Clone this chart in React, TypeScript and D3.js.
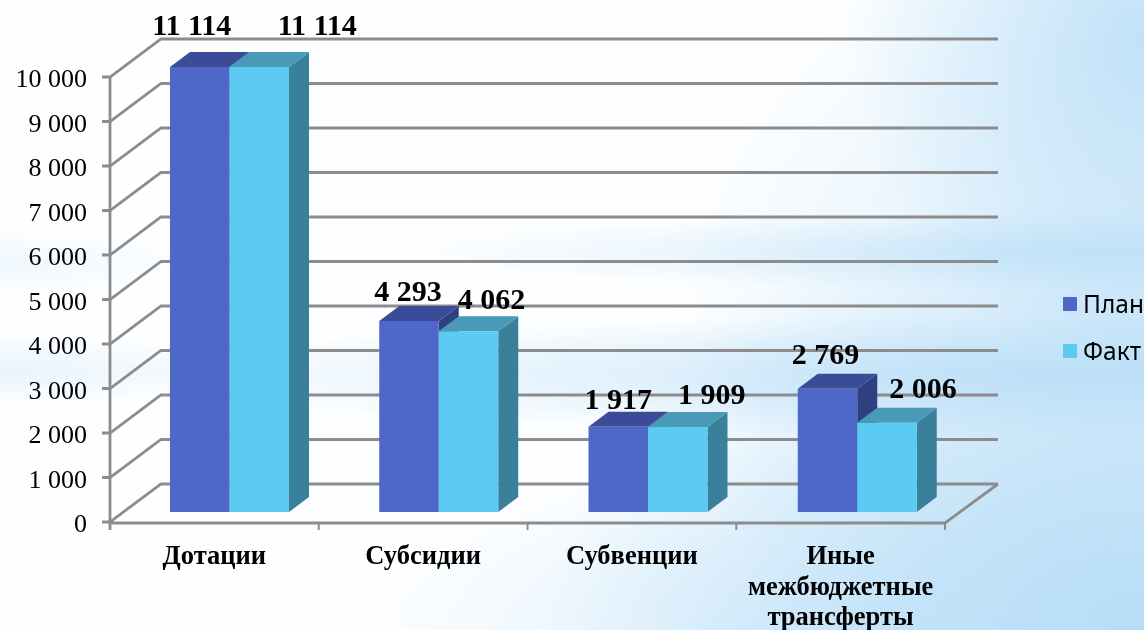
import React from "react";
import * as d3 from "d3";

const categories = ["Дотации", "Субсидии", "Субвенции", "Иные межбюджетные трансферты"];
const categoryLines = [["Дотации"], ["Субсидии"], ["Субвенции"], ["Иные", "межбюджетные", "трансферты"]];
const seriesNames = ["План", "Факт"];
const plan = [11114, 4293, 1917, 2769];
const fact = [11114, 4062, 1909, 2006];
const yTicks = [0, 1000, 2000, 3000, 4000, 5000, 6000, 7000, 8000, 9000, 10000];
const axisMax = 10000;

const W = 1144, H = 630;
const serif = "'Liberation Serif', serif";
const grey = "#8c8c8c";
const palette = [
  { front: "#4f68c8", top: "#3b4c98", side: "#2f4080" },
  { front: "#5ccbf3", top: "#4899b8", side: "#3b809b" },
];
// depth of the plot box and of the bars
const wallDx = 51, wallDy = -38, barDx = 20, barDy = -15;
// manual offsets of the value labels relative to the bar centre / bar top
const labelOffsets = [
  [[-8, 0], [58, 0]],
  [[-1, -20], [23, -22]],
  [[0, -18], [34, -23]],
  [[-2, -25], [36, -25]],
];
const labelBaselineTop = 35;
// soft glow patches of the backdrop: centre x, centre y, rx, ry, opacity
const glows = [
  [1144, 630, 600, 440, 0.95],
  [1144, 330, 480, 420, 0.55],
  [1060, 375, 950, 60, 0.7],
  [1060, 252, 660, 38, 0.55],
  [0, 370, 260, 35, 0.3],
  [0, 262, 200, 32, 0.2],
  [1144, 40, 300, 330, 0.8],
  [900, 640, 540, 200, 0.55],
];

const fmt = d3.formatLocale({ thousands: " ", grouping: [3], decimal: ",", currency: ["", ""] }).format(",d");

export default function App() {
  const x0 = d3.scaleBand<string>().domain(categories).range([110, 945]);
  const xBars = d3.scaleBand<string>().domain(categories).range([110, 947]);
  const xs = d3.scaleBand<string>().domain(seriesNames).range([60, 179]);
  const yAxis = d3.scaleLinear().domain([0, axisMax]).range([522, 77]);
  const yBar = d3.scaleLinear().domain([0, axisMax]).range([512, 67]).clamp(true);
  const series = [plan, fact];
  const w = xs.bandwidth();
  const [xL, xR] = x0.range();

  return (
    <svg width={W} height={H} viewBox={`0 0 ${W} ${H}`} style={{ position: "absolute", left: 0, top: 0, display: "block" }}>
      <defs>
        <radialGradient id="glow">
          <stop offset="0" stopColor="#b4dcf7" stopOpacity="1" />
          <stop offset="0.5" stopColor="#b4dcf7" stopOpacity="0.5" />
          <stop offset="1" stopColor="#b4dcf7" stopOpacity="0" />
        </radialGradient>
        <filter id="soft" x="-2%" y="-2%" width="104%" height="104%">
          <feGaussianBlur stdDeviation="0.45" />
        </filter>
      </defs>
      <rect width={W} height={H} fill="#fdfeff" />
      {glows.map(([cx, cy, rx, ry, o], i) => (
        <ellipse key={i} cx={cx} cy={cy} rx={rx} ry={ry} fill="url(#glow)" opacity={o} />
      ))}

      <g filter="url(#soft)">
        {/* walls */}
        {yTicks.map((t) => {
          const y = yAxis(t);
          return (
            <path key={t} fill="none" stroke={grey} strokeWidth={2.8} d={`M${xL - 8},${y}H${xL}L${xL + wallDx},${y + wallDy}H${xR + 53}`} />
          );
        })}
        <line x1={xL} x2={xL} y1={yAxis(axisMax)} y2={yAxis(0) + 8} stroke={grey} strokeWidth={2.8} />
        <path d={`M${xL},${yAxis(0) + 1}H${xR}L${xR + 53},${yAxis(0) + wallDy}`} fill="none" stroke={grey} strokeWidth={2.8} />
        {categories.map((c) => (
          <line key={c} x1={(x0(c) as number) + x0.bandwidth()} x2={(x0(c) as number) + x0.bandwidth()} y1={yAxis(0) + 1} y2={yAxis(0) + 8} stroke={grey} strokeWidth={2} />
        ))}

        {/* bars */}
        {categories.map((c, ci) => (
          <g key={c}>
            {seriesNames.map((s, si) => {
              const left = (xBars(c) as number) + (xs(s) as number);
              const yt = yBar(series[si][ci]);
              const yb = yBar(0);
              const col = palette[si];
              return (
                <g key={s}>
                  <path d={`M${left + w},${yt}l${barDx},${barDy}V${yb + barDy}l${-barDx},${-barDy}Z`} fill={col.side} />
                  <path d={`M${left},${yt}l${barDx},${barDy}h${w}l${-barDx},${-barDy}Z`} fill={col.top} />
                  <rect x={left} y={yt} width={w} height={yb - yt} fill={col.front} />
                </g>
              );
            })}
          </g>
        ))}

        {/* value labels */}
        {categories.map((c, ci) =>
          seriesNames.map((s, si) => {
            const left = (xBars(c) as number) + (xs(s) as number);
            const v = series[si][ci];
            const [dx, dy] = labelOffsets[ci][si];
            const y = v > axisMax ? labelBaselineTop : yBar(v) + dy;
            return (
              <text key={c + s} x={left + w / 2 + dx} y={y} textAnchor="middle" fontFamily={serif} fontWeight={700} fontSize={30} fill="#000">
                {fmt(v)}
              </text>
            );
          })
        )}

        {/* y tick labels */}
        {yTicks.map((t) => (
          <text key={t} x={87} y={yAxis(t) + 10} textAnchor="end" fontFamily={serif} fontSize={26} fill="#000">
            {fmt(t)}
          </text>
        ))}

        {/* category labels */}
        {categories.map((c, ci) => (
          <text key={c} textAnchor="middle" fontFamily={serif} fontWeight={700} fontSize={26.5} fill="#000">
            {categoryLines[ci].map((ln, li) => (
              <tspan key={ln} x={(x0(c) as number) + x0.bandwidth() / 2} y={564 + li * 30.5}>
                {ln}
              </tspan>
            ))}
          </text>
        ))}

        {/* legend */}
        {seriesNames.map((s, si) => (
          <g key={s} transform={`translate(1063,${297 + si * 47})`}>
            <rect width={14} height={14} fill={palette[si].front} />
            <text x={20} y={15.5} fontFamily="'Noto Sans', sans-serif" fontSize={24.5} fill="#000">
              {s}
            </text>
          </g>
        ))}
      </g>
    </svg>
  );
}
